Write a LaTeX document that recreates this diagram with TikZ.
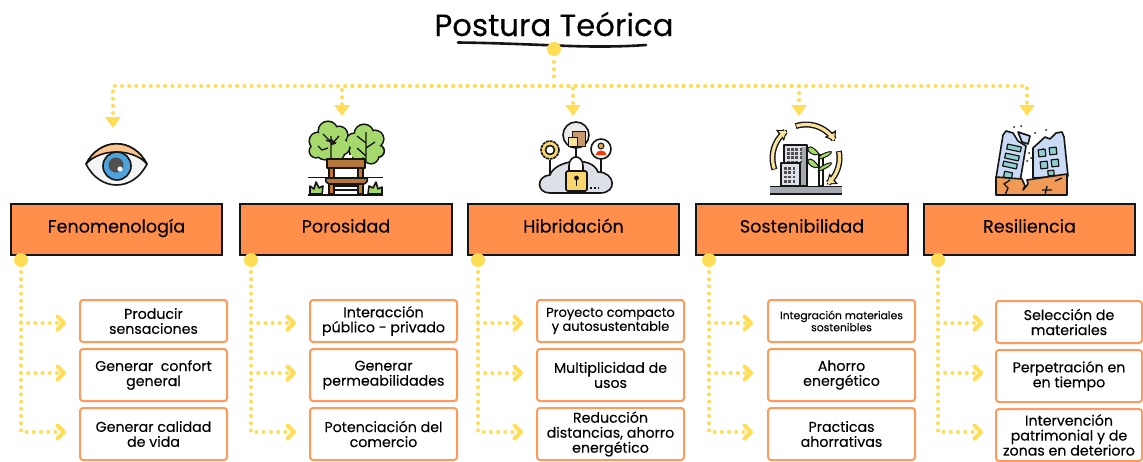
\documentclass[tikz,border=0pt]{standalone}
\usepackage{fontspec}
\setmainfont{Poppins}[FakeBold=0.18]
\usetikzlibrary{arrows.meta}
\definecolor{dotc}{HTML}{FFDD55}
\definecolor{boxo}{HTML}{FF8F4A}
\definecolor{edgeo}{HTML}{FF9A5C}
\definecolor{ink}{HTML}{151515}
\definecolor{leaf}{HTML}{A6D96B}
\definecolor{wood}{HTML}{B5763A}
\definecolor{graya}{HTML}{DDE0E6}
\definecolor{grayb}{HTML}{A5A9B0}
\definecolor{sand}{HTML}{F9E29C}
\definecolor{lockc}{HTML}{F8D56E}
\definecolor{ruinb}{HTML}{CBDAF5}
\definecolor{wind}{HTML}{8FD0D0}
\definecolor{soil}{HTML}{F09A56}
\definecolor{brow}{HTML}{FBC58F}
\definecolor{iris}{HTML}{4FA3DC}
\tikzset{
 x=1pt,y=-1pt,
 dotline/.style={dotc,line width=4pt,line cap=round,dash pattern=on 0pt off 7.2pt},
 toptip/.style={-{Triangle[length=11pt,width=15pt,fill=dotc,color=dotc]}},
 sidetip/.style={-{Straight Barb[length=6.5pt,width=13pt,line width=4pt,round,color=dotc]}},
 hubdot/.style={circle,fill=dotc,draw=none,minimum size=14pt,inner sep=0pt,outer sep=0pt},
 headbox/.style={rectangle,draw=ink,line width=2.2pt,fill=boxo,anchor=north west,minimum width=211pt,minimum height=51pt,inner sep=0pt,outer sep=0pt,text height=10pt,text depth=4pt,font=\fontsize{17.6}{19}\selectfont},
 itembox/.style={rectangle,draw=edgeo,line width=2pt,rounded corners=3pt,fill=white,anchor=north west,minimum width=147pt,inner sep=0pt,outer sep=0pt,align=center,font=\fontsize{14.2}{15}\selectfont},
 ic/.style={draw=ink,line width=1.6pt,line join=round},
}
\newcommand{\win}[5]{\path[ic,fill=wind,line width=1.2pt,shift={(#1,#2)},rotate=#5] (-#3/2,-#4/2) rectangle (#3/2,#4/2);}
\newcommand{\gridw}[5]{\foreach \i in {1,...,#3}{\foreach \j in {1,...,#4}{\fill[ink!75] (#1+\i*#5-#5,#2+\j*#5-#5) rectangle ++(2.6,2.6);}}}
\begin{document}
\begin{tikzpicture}
\useasboundingbox (0,0) rectangle (1143,461);
\fill[white] (0,0) rectangle (1143,461);

% title
\node[inner sep=0pt,font=\fontsize{30.8}{34}\selectfont] (title) at (554,24) {Postura Teórica};
\draw[ink,line width=2.6pt,line cap=round] (458,42.5) .. controls (500,43) and (540,45) .. (570,46) .. controls (600,47) and (625,46.5) .. (646,45);
\node[hubdot] (hub) at (554,49) {};

% bus coordinates
\coordinate (bus) at (554,86);
\coordinate (t1) at (113,128);
\coordinate (t2) at (342,116);
\coordinate (t3) at (573,116);
\coordinate (t4) at (799,116);
\coordinate (t5) at (1027,116);
\draw[dotline,shorten <=6pt] (hub) -- (554,80);
\foreach \t in {t1,t2,t3,t4,t5}{\draw[dotline,toptip] (bus) -| (\t);}

% heads
\node[headbox] (h1) at (11,204) {Fenomenología};
\node[headbox,minimum width=212pt] (h2) at (240,204) {Porosidad};
\node[headbox] (h3) at (468,204) {Hibridación};
\node[headbox,minimum width=212pt] (h4) at (696,204) {Sostenibilidad};
\node[headbox] (h5) at (924,204) {Resiliencia};

% hub dots
\node[hubdot] (d1) at (21,260) {};
\node[hubdot] (d2) at (251,260) {};
\node[hubdot] (d3) at (478,260) {};
\node[hubdot] (d4) at (709,260) {};
\node[hubdot] (d5) at (938,260) {};

% items column 1
\node[itembox,minimum height=42pt] (a1) at (80,300) {Producir\\sensaciones};
\node[itembox,minimum height=52pt] (a2) at (80,349) {Generar\ \ confort\\general};
\node[itembox,minimum height=52pt] (a3) at (80,408) {Generar calidad\\de vida};
% column 2
\node[itembox,minimum height=42pt] (b1) at (310,300) {Interacción\\público - privado};
\node[itembox,minimum height=52pt] (b2) at (310,349) {Generar\\permeabilidades};
\node[itembox,minimum height=52pt] (b3) at (310,408) {Potenciación del\\comercio};
% column 3
\node[itembox,minimum height=42pt,font=\fontsize{13}{14}\selectfont] (c1) at (537,300) {Proyecto compacto\\y autosustentable};
\node[itembox,minimum height=52pt] (c2) at (537,349) {Multiplicidad de\\usos};
\node[itembox,minimum height=52pt] (c3) at (537,408) {Reducción\\distancias, ahorro\\energético};
% column 4
\node[itembox,minimum height=42pt,font=\fontsize{10.8}{12}\selectfont] (e1) at (768,300) {Integración materiales\\sostenibles};
\node[itembox,minimum height=52pt] (e2) at (768,349) {Ahorro\\energético};
\node[itembox,minimum height=52pt] (e3) at (768,408) {Practicas\\ahorrativas};
% column 5
\node[itembox,minimum height=42pt,minimum width=146pt] (f1) at (996,301) {Selección de\\materiales};
\node[itembox,minimum height=52pt,minimum width=146pt] (f2) at (996,350) {Perpetración en\\en tiempo};
\node[itembox,minimum height=52pt,minimum width=146pt] (f3) at (996,409) {Intervención\\patrimonial y de\\zonas en deterioro};

% branch tips
\foreach \d/\p/\x in {d1/p/66,d2/q/296,d3/r/523,d4/s/753,d5/u/983}{
  \coordinate (\p1) at (\x,323);
  \coordinate (\p2) at (\x,373);
  \coordinate (\p3) at (\x,432);
  \draw[dotline,sidetip,shorten <=5pt] (\d) |- (\p3);
  \draw[dotline,sidetip] (\d|-\p1) -- (\p1);
  \draw[dotline,sidetip] (\d|-\p2) -- (\p2);
}

% ---- eye
\draw[ic,fill=gray!8] (86,164) .. controls (100,137) and (133,137) .. (147,164) .. controls (133,192) and (100,192) .. (86,164) -- cycle;
\draw[ic,fill=brow] (86,164) .. controls (100,137) and (133,137) .. (147,164) .. controls (133,148) and (100,148) .. (86,164) -- cycle;
\draw[ic,fill=iris] (117,166) circle[radius=14pt];
\fill[ink!75] (116,165) circle[radius=7.5pt];
\fill[white] (120,169) circle[radius=2.6pt];

% ---- trees and bench
\foreach \cx/\cy/\r in {328/131/9,318/141/8,339/135/8,342/147/7,316/151/6,325/150/9,336/152/8,364/134/9,354/141/7,375/139/8,378/151/5.5,371/156/7,358/151/8,367/148/10}{
  \fill[ink] (\cx,\cy) circle[radius=\r pt+1.6pt];}
\foreach \cx/\cy/\r in {328/131/9,318/141/8,339/135/8,342/147/7,316/151/6,325/150/9,336/152/8,364/134/9,354/141/7,375/139/8,378/151/5.5,371/156/7,358/151/8,367/148/10}{
  \fill[leaf] (\cx,\cy) circle[radius=\r pt];}
\draw[ink,line width=1.3pt] (331,136) -- (331,159) (331,142) -- (323,134) (331,145) -- (339,136) (318,146) -- (322,150) -- (328,148);
\draw[ink,line width=1.3pt] (366,132) -- (366,162) (366,143) -- (357,136) (366,148) -- (375,142) (357,148) -- (366,156);
\fill[white] (347,155) rectangle (352,160);
\draw[ic,fill=wood!80!orange] (329,168) rectangle (334,194);
\draw[ic,fill=wood!80!orange] (358,168) rectangle (363,194);
\draw[ic,fill=wood] (327,159) rectangle (365,168);
\draw[ink,line width=1.5pt] (308,177.5) -- (383,177.5) (308,195) -- (383,195) (334,186) -- (358,186) (334,190) -- (358,190);
\draw[ic,fill=wood,rounded corners=2pt] (325,178) -- (368,178) -- (366,184) -- (327,184) -- cycle;
\draw[ic,fill=leaf] (310,194) -- (310,186) -- (314,189) -- (316,182) -- (319,188) -- (323,186) -- (322,194) -- cycle;
\draw[ic,fill=leaf] (368,194) -- (369,186) -- (373,188) -- (376,182) -- (378,189) -- (382,187) -- (382,194) -- cycle;

% ---- cloud and lock
\draw[ic] (550,160) -- (550,178) (601,158) -- (601,176) (576,148) -- (576,158);
\draw[ic,fill=graya] (550,193) .. controls (536,193) and (536,176) .. (550,175) .. controls (555,160) and (592,155) .. (598,172) .. controls (615,172) and (618,193) .. (600,193) -- cycle;
\draw[ic,fill=white] (569,172) -- (569,166) .. controls (569,154) and (583,154) .. (583,166) -- (583,172) -- cycle;
\draw[ic,fill=lockc,rounded corners=1.5pt] (566,171) rectangle (587,191);
\fill[ink] (576.5,178) circle[radius=2.4pt];
\draw[ink,line width=1.5pt] (576.5,178) -- (576.5,186);
\draw[ink,line width=1.6pt,dash pattern=on 2pt off 2pt] (590,188) -- (599,188);
\draw[ic,fill=gray!15] (576,135) circle[radius=13pt];
\draw[ink,line width=1pt,fill=wood!75!white] (572,131) rectangle (585,146.5);
\draw[ink,line width=1pt,fill=lockc!70!white] (568,137) rectangle (577,146.5);
\draw[ic,fill=lockc,dash pattern=on 3pt off 0.8pt] (550,150) circle[radius=9pt];
\draw[ic,fill=white] (550,150) circle[radius=4.5pt];
\draw[ic,fill=white] (601,149) circle[radius=10pt];
\draw[ink,fill=wood!50!lockc,line width=1pt] (601,146) circle[radius=3pt];
\fill[red!60!orange] (595.5,155) .. controls (596,149) and (606,149) .. (606.5,155) -- cycle;

% ---- buildings and cycle
\draw[ic,fill=graya] (784,145) rectangle (807,186);
\fill[grayb] (801,147) rectangle (806,185);
\gridw{787}{148}{4}{4}{4.2}
\draw[ic,fill=graya] (781,163) rectangle (800,186);
\gridw{784}{167}{3}{4}{4.4}
\draw[ink,line width=1.2pt,fill=white] (819,155) rectangle (823,186);
\foreach \ax/\ay/\bx/\by in {808/148/819/154,831/153/819/158,808/160/819/167,831/164/819/170}{
  \draw[ink,line width=1pt,fill=leaf] (\ax,\ay) .. controls (\ax+3,\ay-4) and (\bx-2,\by-3) .. (\bx,\by) .. controls (\bx-4,\by+3) and (\ax-2,\ay+4) .. (\ax,\ay) -- cycle;}
\fill[grayb] (770,186) rectangle (842,194);
\draw[ink,line width=1.5pt] (770,186.5) -- (842,186.5) (770,194) -- (842,194);
\foreach \sa/\ea in {200/124,108/30,12/-52}{
 \draw[ink,line width=6pt,-{Triangle[length=9pt,width=13pt]}] plot[domain=\sa:\ea,samples=16,smooth] ({806+33.5*cos(\x)},{158-33.5*sin(\x)});
 \draw[sand,line width=3.2pt,shorten >=1.5pt,-{Triangle[length=6pt,width=8pt]}] plot[domain=\sa-1.5:\ea,samples=16,smooth] ({806+33.5*cos(\x)},{158-33.5*sin(\x)});
}

% ---- ruined buildings
\draw[ic,fill=ruinb] (996,178) -- (1003,135) -- (1006,131) -- (1013,133) -- (1018,141) -- (1026,146) -- (1020,182) -- cycle;
\draw[ic,fill=ruinb] (1018,132) -- (1030,136) -- (1028,144) -- (1022,142) -- cycle;
\draw[ic,fill=ruinb] (1033,148) -- (1045,137) -- (1050,139) -- (1056,133) -- (1062,132) -- (1064,137) -- (1068,176) -- (1033,178) -- cycle;
\win{1014}{148}{14}{5}{-12}
\win{1012}{157}{14}{5}{-12}
\win{1010}{165}{14}{5}{-12}
\win{1008}{175}{8}{6}{-12}
\win{1042}{153}{7}{7}{6}
\win{1053}{151}{7}{7}{6}
\win{1044}{165}{7}{7}{6}
\win{1055}{163}{7}{7}{6}
\win{1051}{173}{6}{5}{6}
\draw[ic,fill=soil] (996,177) -- (1022,179) -- (1025,186) -- (1023,190) -- (1028,184) -- (1027,180) -- (1040,178) -- (1067,174) -- (1067,195) -- (996,195) -- cycle;
\draw[ink,line width=1.4pt] (1005,195) -- (1008,188) -- (1004,184) -- (1010,180) (1045,195) -- (1047,186) (1042,190) -- (1052,190) (1055,181) -- (1062,178);
\foreach \a/\b in {1014/127,1021/126,1035/133,1046/130,1043/149,1029/153,1031/158,1027/161}{\fill[ink] (\a,\b) circle[radius=1pt];}
\end{tikzpicture}
\end{document}
